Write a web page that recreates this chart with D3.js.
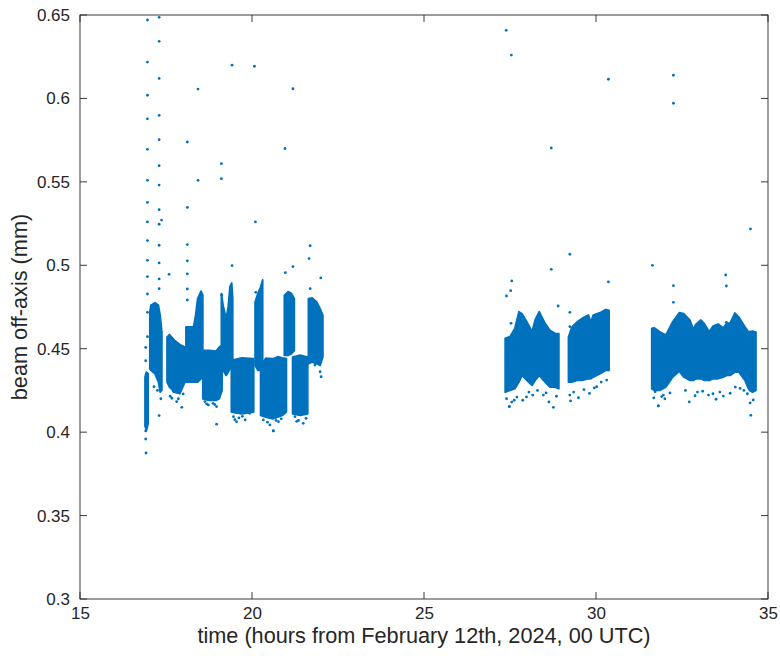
<!DOCTYPE html>
<html>
<head>
<meta charset="utf-8">
<script src="https://cdn.jsdelivr.net/npm/d3@7"></script>
<style>
  html, body { margin: 0; padding: 0; background: #fff; }
  svg { display: block; }
  text { font-family: "Liberation Sans", Arial, Helvetica, sans-serif; fill: #262626; }
</style>
</head>
<body>
<svg id="chart" width="780" height="656"></svg>
<script>
// ---------- data ----------
const xTicks = [15, 20, 25, 30, 35];
const yTicks = [0.3, 0.35, 0.4, 0.45, 0.5, 0.55, 0.6, 0.65];
const yTickLabels = ["0.3", "0.35", "0.4", "0.45", "0.5", "0.55", "0.6", "0.65"];
const xLabel = "time (hours from February 12th, 2024, 00 UTC)";
const yLabel = "beam off-axis (mm)";

// Dense point clouds: [time, lower envelope, upper envelope]
const bandA = [[16.89, 0.404, 0.433], [16.93, 0.401, 0.436], [16.98, 0.405, 0.435]];
const bandB = [[17.03, 0.438, 0.472], [17.06, 0.437, 0.476], [17.18, 0.435, 0.4776], [17.28, 0.430, 0.476], [17.33, 0.424, 0.470], [17.38, 0.425, 0.460]];
const bandC = [[17.53, 0.430, 0.457], [17.60, 0.427, 0.4585], [17.75, 0.424, 0.455], [17.90, 0.423, 0.4525], [18.05, 0.430, 0.451]];
const bandD = [[18.08, 0.430, 0.463], [18.30, 0.430, 0.463], [18.36, 0.430, 0.470], [18.42, 0.430, 0.480], [18.52, 0.432, 0.4845], [18.57, 0.435, 0.482]];
const bandE = [[18.57, 0.420, 0.449], [18.75, 0.419, 0.449], [18.95, 0.419, 0.4485], [19.05, 0.420, 0.451], [19.13, 0.425, 0.452]];
const bandF = [[19.11, 0.440, 0.483], [19.16, 0.437, 0.476], [19.25, 0.434, 0.468], [19.31, 0.436, 0.4755], [19.36, 0.438, 0.4874], [19.41, 0.440, 0.4894], [19.44, 0.442, 0.480]];
const bandG = [[19.40, 0.412, 0.443], [19.70, 0.411, 0.4445], [20.05, 0.412, 0.444]];
const bandH = [[20.09, 0.440, 0.478], [20.17, 0.437, 0.483], [20.25, 0.437, 0.487], [20.31, 0.440, 0.4912]];
const bandI = [[20.25, 0.410, 0.440], [20.40, 0.409, 0.4443], [20.60, 0.408, 0.444], [20.75, 0.409, 0.4452], [20.88, 0.410, 0.4445], [21.00, 0.412, 0.444]];
const bandJ = [[20.94, 0.446, 0.482], [21.05, 0.446, 0.4842], [21.15, 0.447, 0.483], [21.23, 0.449, 0.480]];
const bandK = [[21.18, 0.411, 0.445], [21.40, 0.410, 0.4462], [21.62, 0.411, 0.445]];
const bandL = [[21.64, 0.441, 0.480], [21.75, 0.442, 0.4805], [21.88, 0.441, 0.478], [21.98, 0.440, 0.474], [22.06, 0.445, 0.470]];
const bandM = [[27.36, 0.424, 0.4562], [27.50, 0.425, 0.4572], [27.64, 0.426, 0.4622], [27.76, 0.430, 0.4722], [27.85, 0.434, 0.471], [27.99, 0.431, 0.4662], [28.14, 0.428, 0.4602], [28.23, 0.431, 0.4672], [28.35, 0.434, 0.4722], [28.52, 0.430, 0.4652], [28.66, 0.427, 0.461], [28.81, 0.427, 0.4592], [28.92, 0.426, 0.459]];
const bandN = [[29.20, 0.430, 0.457], [29.30, 0.430, 0.463], [29.45, 0.431, 0.466], [29.60, 0.431, 0.4682], [29.78, 0.432, 0.4702], [29.85, 0.432, 0.466], [29.92, 0.433, 0.4702], [30.12, 0.435, 0.4716], [30.28, 0.437, 0.4735], [30.38, 0.437, 0.473]];
const bandO = [[31.62, 0.426, 0.4622], [31.70, 0.425, 0.4625], [31.85, 0.425, 0.4602], [32.03, 0.427, 0.4582], [32.10, 0.429, 0.461], [32.23, 0.433, 0.4662], [32.42, 0.4365, 0.4716], [32.55, 0.433, 0.471], [32.73, 0.431, 0.4672], [32.83, 0.431, 0.4616], [32.90, 0.432, 0.4645], [33.05, 0.432, 0.4672], [33.15, 0.431, 0.465], [33.29, 0.431, 0.4602], [33.40, 0.432, 0.4635], [33.55, 0.432, 0.4648], [33.70, 0.433, 0.4625], [33.80, 0.434, 0.465], [33.90, 0.434, 0.4655], [34.04, 0.436, 0.4714], [34.15, 0.436, 0.469], [34.33, 0.431, 0.4632], [34.43, 0.426, 0.4602]];
const bandP = [[34.46, 0.425, 0.4602], [34.55, 0.424, 0.4605], [34.65, 0.425, 0.4600]];
const bands = [bandA, bandB, bandC, bandD, bandE, bandF, bandG, bandH, bandI, bandJ, bandK, bandL, bandM, bandN, bandO, bandP];

// Isolated samples: [time, off-axis]
const outlierTimes = [
  16.96, 16.96, 16.96, 16.96, 16.96, 16.96, 16.96, 16.96, 16.96, 16.96, 16.96, 16.96, 16.96, 16.96, 16.91, 16.91,
  17.30, 17.30, 17.30, 17.30, 17.30, 17.30, 17.30, 17.30, 17.30, 17.30, 17.30, 17.30, 17.30, 17.37,
  18.12, 18.12, 18.12, 18.12, 18.12, 18.12, 18.12, 18.43, 18.43, 19.11, 19.11, 19.12, 19.42, 19.42,
  20.07, 20.10, 20.11, 20.96, 20.97, 21.19, 21.19, 21.66, 21.69, 21.69, 22.00, 17.59,
  17.15, 17.30, 18.97, 16.91, 16.91, 16.91, 16.92, 20.62,
  27.39, 27.54, 30.36, 32.25, 32.25, 28.70, 34.49, 29.24, 31.64, 28.70, 27.55, 27.52, 27.40, 28.90,
  29.24, 29.24, 30.36, 27.53, 32.25, 32.25, 33.77, 33.79, 33.79, 27.48, 28.76, 31.81, 34.50
];
const outlierValues = [
  0.647, 0.6218, 0.6019, 0.5878, 0.5695, 0.5509, 0.5377, 0.526, 0.5148, 0.503, 0.4932, 0.4828, 0.4718, 0.4572, 0.4508, 0.4428,
  0.6486, 0.6342, 0.612, 0.5899, 0.5753, 0.5597, 0.5481, 0.5333, 0.5246, 0.512, 0.5014, 0.4918, 0.486, 0.5271,
  0.5739, 0.5347, 0.5124, 0.5027, 0.4948, 0.4858, 0.4792, 0.6056, 0.5509, 0.5609, 0.5519, 0.4822, 0.6199, 0.4998,
  0.6193, 0.526, 0.4838, 0.570, 0.4956, 0.6058, 0.4992, 0.504, 0.5117, 0.486, 0.4924, 0.4946,
  0.4272, 0.4099, 0.4048, 0.4037, 0.4007, 0.3959, 0.3875, 0.4007,
  0.6408, 0.626, 0.6115, 0.6139, 0.5971, 0.5703, 0.5218, 0.5066, 0.5, 0.4976, 0.4906, 0.4848, 0.4816, 0.4756,
  0.4718, 0.4632, 0.49, 0.4652, 0.4878, 0.4778, 0.4942, 0.4876, 0.4658, 0.4153, 0.4149, 0.4157, 0.4101
];

// Sparse samples along the lower edges of the clouds: [time, off-axis]
const fringeTimes = [
  17.67, 17.81, 17.96, 17.72, 18.00, 17.62, 17.86, 18.63, 18.73, 18.87, 18.97, 18.80, 18.68, 18.92,
  19.46, 19.55, 19.80, 19.93, 19.62, 19.50, 19.72, 20.33, 20.52, 20.62, 20.77, 20.85, 20.45, 20.70,
  21.25, 21.49, 21.57, 21.35, 21.30, 21.83, 21.98, 22.01, 17.25, 17.35,
  27.48, 27.62, 27.87, 27.98, 28.16, 28.47, 28.63, 29.26, 29.49, 29.81, 30.02, 30.31, 29.24,
  27.40, 27.55, 27.70, 28.05, 28.30, 28.55, 28.85, 29.35, 29.65, 29.95, 30.15,
  31.81, 31.91, 32.71, 32.88, 33.27, 33.49, 33.70, 33.90, 34.19, 34.48, 34.57, 31.72, 31.96,
  31.68, 32.00, 32.15, 32.60, 32.95, 33.10, 33.40, 33.60, 34.05, 34.30, 34.40
];
const fringeValues = [
  0.4203, 0.4183, 0.4149, 0.4243, 0.4229, 0.4215, 0.4200, 0.4183, 0.4163, 0.4173, 0.4153, 0.4193, 0.4170, 0.4165,
  0.4093, 0.4063, 0.4073, 0.4113, 0.4085, 0.4075, 0.4095, 0.4073, 0.4043, 0.4007, 0.4063, 0.4080, 0.4060, 0.4070,
  0.4093, 0.4053, 0.4083, 0.4070, 0.4065, 0.4402, 0.4362, 0.4332, 0.4250, 0.4200,
  0.4153, 0.4191, 0.4191, 0.4211, 0.4222, 0.4222, 0.4181, 0.4187, 0.4206, 0.4232, 0.4272, 0.4312, 0.4222,
  0.4200, 0.4180, 0.4210, 0.4240, 0.4250, 0.4235, 0.4215, 0.4240, 0.4255, 0.4265, 0.4300,
  0.4157, 0.4213, 0.4181, 0.4218, 0.4222, 0.4197, 0.4216, 0.4233, 0.4262, 0.4175, 0.4193, 0.4242, 0.4222,
  0.4205, 0.4200, 0.4235, 0.4250, 0.4240, 0.4245, 0.4230, 0.4240, 0.4270, 0.4250, 0.4230
];

// ---------- drawing ----------
const W = 780, H = 656;
const margin = { left: 80, right: 12, top: 15, bottom: 57 };
const blue = "#0072BD";
const axisColor = "#262626";
const fontFamily = "\"Liberation Sans\", Arial, Helvetica, sans-serif";

const svg = d3.select("#chart");
const x = d3.scaleLinear().domain([15, 35]).range([margin.left, W - margin.right]);
const y = d3.scaleLinear().domain([0.3, 0.65]).range([H - margin.bottom, margin.top]);

svg.append("clipPath").attr("id", "plotclip").append("rect")
  .attr("x", x(15)).attr("y", y(0.65)).attr("width", x(35) - x(15)).attr("height", y(0.3) - y(0.65));

const plot = svg.append("g").attr("clip-path", "url(#plotclip)");

const area = d3.area()
  .x(d => x(d[0]))
  .y0(d => y(d[1]))
  .y1(d => y(d[2]));

plot.selectAll("path.band").data(bands).join("path")
  .attr("class", "band")
  .attr("d", area)
  .attr("fill", blue)
  .attr("stroke", blue)
  .attr("stroke-width", 1.8)
  .attr("stroke-linejoin", "round");

const fringe = fringeTimes.map((t, i) => [t, fringeValues[i]]);
plot.selectAll("circle.fringe").data(fringe).join("circle")
  .attr("class", "fringe")
  .attr("cx", d => x(d[0])).attr("cy", d => y(d[1]))
  .attr("r", 1.4).attr("fill", blue);

const outliers = outlierTimes.map((t, i) => [t, outlierValues[i]]);
plot.selectAll("circle.out").data(outliers).join("circle")
  .attr("class", "out")
  .attr("cx", d => x(d[0])).attr("cy", d => y(d[1]))
  .attr("r", 1.4).attr("fill", blue);

// box
svg.append("rect")
  .attr("x", x(15)).attr("y", y(0.65))
  .attr("width", x(35) - x(15)).attr("height", y(0.3) - y(0.65))
  .attr("fill", "none").attr("stroke", axisColor).attr("stroke-width", 0.9);

// axes with inward ticks (mirrored on top and right)
const tickLen = 7;
const xAxis = d3.axisBottom(x).tickValues(xTicks).tickSize(0).tickPadding(8).tickFormat(d3.format("d"));
const gx = svg.append("g").attr("transform", `translate(0,${y(0.3)})`).call(xAxis);
gx.select(".domain").remove();
gx.selectAll("text").attr("font-size", 17).attr("fill", axisColor).attr("font-family", fontFamily);

const yAxis = d3.axisLeft(y).tickValues(yTicks).tickSize(0).tickPadding(10)
  .tickFormat((d, i) => yTickLabels[i]);
const gy = svg.append("g").attr("transform", `translate(${x(15)},0)`).call(yAxis);
gy.select(".domain").remove();
gy.selectAll("text").attr("font-size", 17).attr("fill", axisColor).attr("font-family", fontFamily);

const tickG = svg.append("g").attr("stroke", axisColor).attr("stroke-width", 0.9);
xTicks.forEach(v => {
  tickG.append("line").attr("x1", x(v)).attr("x2", x(v)).attr("y1", y(0.3)).attr("y2", y(0.3) - tickLen);
  tickG.append("line").attr("x1", x(v)).attr("x2", x(v)).attr("y1", y(0.65)).attr("y2", y(0.65) + tickLen);
});
yTicks.forEach(v => {
  tickG.append("line").attr("x1", x(15)).attr("x2", x(15) + tickLen).attr("y1", y(v)).attr("y2", y(v));
  tickG.append("line").attr("x1", x(35)).attr("x2", x(35) - tickLen).attr("y1", y(v)).attr("y2", y(v));
});

// axis labels
svg.append("text")
  .attr("x", (x(15) + x(35)) / 2).attr("y", 643)
  .attr("text-anchor", "middle").attr("font-size", 21.7).attr("font-family", fontFamily)
  .text(xLabel);

svg.append("text")
  .attr("transform", `translate(27,${(y(0.3) + y(0.65)) / 2}) rotate(-90)`)
  .attr("text-anchor", "middle").attr("font-size", 21.7).attr("font-family", fontFamily)
  .text(yLabel);
</script>
</body>
</html>
